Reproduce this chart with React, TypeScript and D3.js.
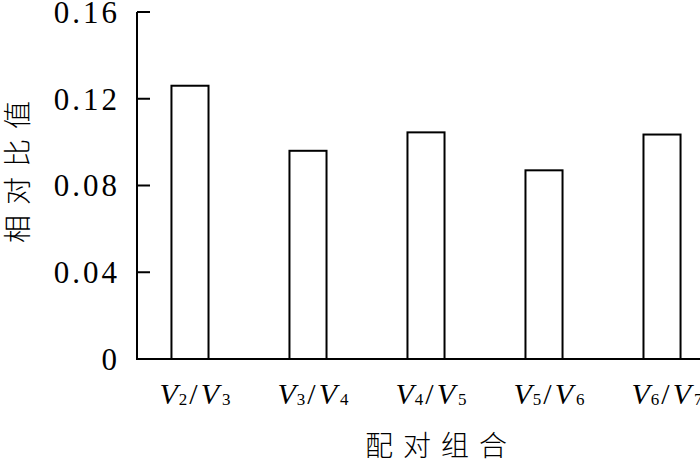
import React from "react";
import * as d3 from "d3";

const categories = ["2/3", "3/4", "4/5", "5/6", "6/7"];
const subsA = ["2", "3", "4", "5", "6"];
const subsB = ["3", "4", "5", "6", "7"];
const values = [0.126, 0.096, 0.1045, 0.087, 0.1035];
const yTicks = [0, 0.04, 0.08, 0.12, 0.16];
const yTitle = "相对比值";
const xTitle = "配对组合";

const W = 700;
const H = 460;
const left = 137;
const bottom = 359;
const top = 12;

export default function App() {
  const x = d3
    .scaleBand<string>()
    .domain(categories)
    .range([left, 715])
    .paddingInner(0.686)
    .paddingOuter(0.292);
  const y = d3.scaleLinear().domain([0, 0.16]).range([bottom, top]);
  const fmt = (v: number) => (v === 0 ? "0" : d3.format(".2f")(v));
  const serif = "'Liberation Serif', 'Times New Roman', serif";
  const cjk = "'Noto Sans CJK SC', sans-serif";
  return (
    <svg
      width={W}
      height={H}
      style={{ position: "absolute", left: 0, top: 0, background: "#fff" }}
    >
      {/* bars */}
      {categories.map((c, i) => (
        <rect
          key={c}
          x={x(c)!}
          y={y(values[i])}
          width={x.bandwidth()}
          height={bottom - y(values[i])}
          fill="#fff"
          stroke="#000"
          strokeWidth={2}
        />
      ))}
      {/* y axis */}
      <line x1={left} x2={left} y1={top} y2={bottom} stroke="#000" strokeWidth={2} />
      {yTicks.map((t) => (
        <g key={t}>
          <line x1={left} x2={left + 13} y1={y(t)} y2={y(t)} stroke="#000" strokeWidth={2} />
          <text
            x={120}
            y={y(t)}
            dy="0.35em"
            textAnchor="end"
            fontFamily={serif}
            fontSize={31}
            letterSpacing={3}
          >
            {fmt(t)}
          </text>
        </g>
      ))}
      {/* x axis */}
      <line x1={left - 1} x2={W} y1={bottom} y2={bottom} stroke="#000" strokeWidth={2} />
      {categories.map((c, i) => (
        <text
          key={c}
          x={x(c)! + x.bandwidth() / 2 + 5}
          y={404}
          textAnchor="middle"
          fontFamily={serif}
          fontSize={30}
        >
          <tspan fontStyle="italic">V</tspan>
          <tspan fontSize={17} dy={1} dx={1}>{subsA[i]}</tspan>
          <tspan dy={-1} dx={2}>/</tspan>
          <tspan fontStyle="italic" dx={3}>V</tspan>
          <tspan fontSize={17} dy={1} dx={3}>{subsB[i]}</tspan>
        </text>
      ))}
      {/* titles */}
      <text
        x={441}
        y={456}
        textAnchor="middle"
        fontFamily={cjk}
        fontSize={28}
        fontWeight={300}
        letterSpacing={10}
      >
        {xTitle}
      </text>
      <text
        transform={`translate(28, ${162 + 5}) rotate(-90)`}
        textAnchor="middle"
        fontFamily={cjk}
        fontSize={28}
        fontWeight={300}
        letterSpacing={10}
      >
        {yTitle}
      </text>
    </svg>
  );
}
